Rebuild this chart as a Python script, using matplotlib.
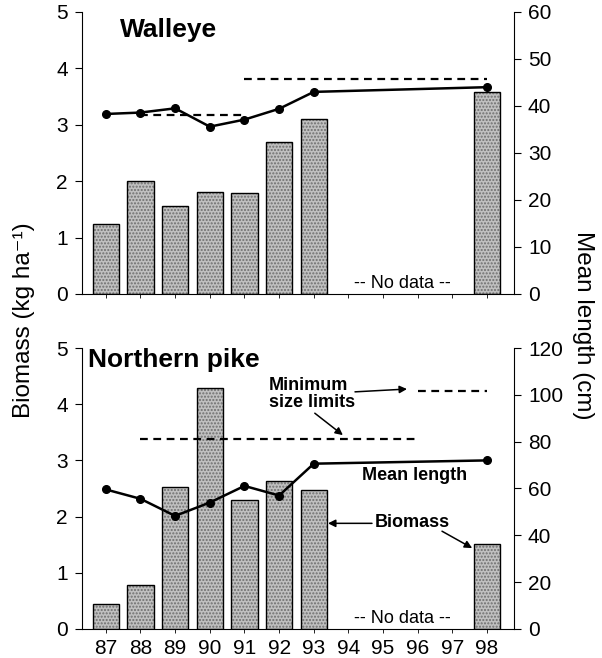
import numpy as np
import matplotlib
matplotlib.use("Agg")
import matplotlib.pyplot as plt

plt.rcParams['font.family'] = ['Liberation Sans', 'DejaVu Sans']

# data
years = [87, 88, 89, 90, 91, 92, 93, 98]
all_years = list(range(87, 99))

walleye_biomass = [1.24, 2.00, 1.56, 1.81, 1.79, 2.70, 3.10, 3.58]
walleye_length = [38.3, 38.6, 39.5, 35.6, 37.1, 39.4, 43.0, 44.0]
# minimum size limits (cm): (start year, end year, value)
walleye_limits = [(88, 91, 38.1), (91, 98, 45.7)]

pike_biomass = [0.44, 0.78, 2.52, 4.29, 2.30, 2.64, 2.48, 1.52]
pike_length = [59.6, 55.6, 48.3, 54.0, 61.1, 57.0, 70.6, 72.0]
pike_limits = [(88, 96, 81.3), (96, 98, 101.6)]

fig = plt.figure(figsize=(6.02, 6.58), dpi=100)
ax_top = fig.add_axes([0.136, 0.5532, 0.718, 0.4286])
ax_bot = fig.add_axes([0.136, 0.0441, 0.718, 0.4270])


def draw_panel(ax, biomass, length, limits, lmax, lticks):
    # stippled bars: gray hatch under a black outline
    ax.bar(years, biomass, width=0.76, color='#c0c0c0', edgecolor='#6e6e6e',
           hatch='.....', linewidth=0, zorder=2)
    ax.bar(years, biomass, width=0.76, fill=False, edgecolor='black',
           linewidth=1.0, zorder=3)
    ax.set_xlim(86.31, 98.78)
    ax.set_ylim(0, 5)
    ax.set_yticks(range(6))
    ax.set_xticks(all_years)
    ax.spines['top'].set_visible(False)
    ax.spines['right'].set_visible(False)
    ax.spines['left'].set_linewidth(0.8)
    ax.spines['bottom'].set_linewidth(0.8)
    ax.tick_params(axis='y', direction='out', length=5, width=0.8,
                   labelsize=15, pad=5)
    ax.tick_params(axis='x', direction='out', length=3, width=0.6,
                   labelsize=15, pad=4)

    ax2 = ax.twinx()
    ax2.plot(years, length, color='black', lw=1.8, marker='o', ms=5.5,
             zorder=5)
    for x0, x1, v in limits:
        ax2.hlines(v, x0, x1, colors='black', linestyles=(0, (3.5, 2.5)),
                   lw=1.6)
    ax2.set_ylim(0, lmax)
    ax2.set_yticks(lticks)
    ax2.spines['top'].set_visible(False)
    ax2.spines['left'].set_visible(False)
    ax2.spines['bottom'].set_visible(False)
    ax2.spines['right'].set_linewidth(0.8)
    ax2.tick_params(axis='y', direction='out', length=5, width=0.8,
                    labelsize=15, pad=5)
    ax.text(95.55, 0.18, '-- No data --', ha='center', va='center',
            fontsize=13)
    return ax2


draw_panel(ax_top, walleye_biomass, walleye_length, walleye_limits,
           60, range(0, 61, 10))
ax_top.set_xticklabels([])
draw_panel(ax_bot, pike_biomass, pike_length, pike_limits,
           120, range(0, 121, 20))
ax_bot.set_xticklabels([str(y) for y in all_years])

ax_top.text(87.4, 4.68, 'Walleye', fontsize=19, fontweight='bold',
            va='center', ha='left')
ax_bot.text(86.5, 4.79, 'Northern pike', fontsize=19, fontweight='bold',
            va='center', ha='left')

# annotations in the pike panel
ax_bot.text(91.7, 4.18, 'Minimum\nsize limits', fontsize=13,
            fontweight='bold', ha='left', va='center', linespacing=1.0,
            zorder=6)
ax_bot.text(94.39, 2.74, 'Mean length', fontsize=13, fontweight='bold',
            ha='left', va='center', zorder=6)
ax_bot.text(94.77, 1.90, 'Biomass', fontsize=13, fontweight='bold',
            ha='left', va='center', zorder=6)
arrow = dict(arrowstyle='-|>', color='black', lw=1.1, mutation_scale=11,
             shrinkA=0, shrinkB=0)
ax_bot.annotate('', xy=(95.69, 4.27), xytext=(94.19, 4.22), arrowprops=arrow)
ax_bot.annotate('', xy=(93.84, 3.45), xytext=(93.03, 3.84), arrowprops=arrow)
ax_bot.annotate('', xy=(93.41, 1.88), xytext=(94.68, 1.88), arrowprops=arrow)
ax_bot.annotate('', xy=(97.57, 1.44), xytext=(96.70, 1.74), arrowprops=arrow)

fig.text(0.04, 0.513, 'Biomass (kg ha\u207b\u00b9)', rotation=90,
         fontsize=17.5, ha='center', va='center')
fig.text(0.968, 0.505, 'Mean length (cm)', rotation=-90, fontsize=17.5,
         ha='center', va='center')

fig.savefig('out.png', dpi=100)
